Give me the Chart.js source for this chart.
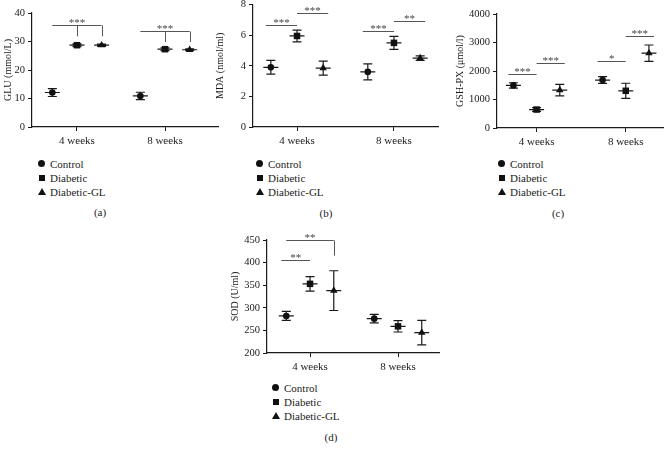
<!DOCTYPE html>
<html>
<head>
<meta charset="utf-8">
<script src="https://cdn.jsdelivr.net/npm/chart.js@4.4.1/dist/chart.umd.min.js"></script>
<style>
  body { margin: 0; background: #fff; width: 668px; height: 454px; position: relative; overflow: hidden; font-family: "Liberation Serif", "DejaVu Serif", serif; color: #222; }
  canvas { position: absolute; }
  .legend { position: absolute; font-family: "Liberation Serif", serif; font-size: 11px; line-height: 14px; }
  .legend div { position: relative; padding-left: 11px; white-space: nowrap; }
  .mk { position: absolute; left: 0; top: 4px; width: 6px; height: 6px; background: #111; }
  .mk.circle { border-radius: 50%; width: 7px; height: 7px; top: 3px; left: -1px; }
  .mk.tri { background: none; width: 0; height: 0; border-left: 4px solid transparent; border-right: 4px solid transparent; border-bottom: 7px solid #111; top: 3px; left: -1px; }
  .cap { position: absolute; font-family: "Liberation Serif", serif; font-size: 11px; transform: translateX(-50%); }
</style>
</head>
<body>
<canvas id="glu-chart" width="226" height="150"></canvas>
<canvas id="mda-chart" width="234" height="150"></canvas>
<canvas id="gsh-chart" width="218" height="150"></canvas>
<canvas id="sod-chart" width="220" height="148"></canvas>

<script>
const weeks = ['4 weeks', '8 weeks'];
const groups = ['Control', 'Diabetic', 'Diabetic-GL'];
const markers = ['circle', 'rect', 'triangle'];

// values per group: [4 weeks, 8 weeks]
const gluMean = [[12.1, 10.9], [28.7, 27.3], [28.7, 27.1]];
const gluErr = [[1.4, 1.3], [0.5, 0.5], [0.4, 0.3]];
const mdaMean = [[3.9, 3.6], [5.95, 5.5], [3.85, 4.5]];
const mdaErr = [[0.45, 0.52], [0.38, 0.42], [0.46, 0.15]];
const gshMean = [[1494, 1682], [647, 1306], [1329, 2624]];
const gshErr = [[94, 118], [65, 265], [205, 288]];
const sodMean = [[282, 276], [353, 259], [338, 245]];
const sodErr = [[10, 9.3], [16, 12.5], [44, 27]];

// significance brackets: week index, from group, to group, height, stars, drops
const gluSig = [
  { week: 0, from: 0, to: 2, y: 35.7, label: '***', drops: [[1, 31.8], [2, 31.8]] },
  { week: 1, from: 0, to: 2, y: 33.6, label: '***', drops: [[1, 29.8], [2, 29.8]] }
];
const mdaSig = [
  { week: 0, from: 0, to: 1, y: 6.67, label: '***' },
  { week: 0, from: 1, to: 2, y: 7.46, label: '***' },
  { week: 1, from: 0, to: 1, y: 6.3, label: '***' },
  { week: 1, from: 1, to: 2, y: 6.9, label: '**' }
];
const gshSig = [
  { week: 0, from: 0, to: 1, y: 1882, label: '***' },
  { week: 0, from: 1, to: 2, y: 2294, label: '***' },
  { week: 1, from: 0, to: 1, y: 2365, label: '*' },
  { week: 1, from: 1, to: 2, y: 3235, label: '***' }
];
const sodSig = [
  { week: 0, from: 0, to: 1, y: 406.6, label: '**' },
  { week: 0, from: 0, to: 2, y: 450, label: '**', drops: [[2, 415.4]] }
];

const ink = '#1a1a1a';

const errorBars = {
  id: 'errorBars',
  beforeDatasetsDraw(chart) {
    const { ctx, scales: { x, y } } = chart;
    const p = chart.options.plugins.errorBars;
    ctx.save();
    ctx.strokeStyle = ink;
    ctx.lineWidth = 1.2;
    p.means.forEach((row, g) => {
      row.forEach((m, i) => {
        const px = x.getPixelForValue(i + 1 + (g - 1) * p.spread);
        const py = y.getPixelForValue(m);
        const top = y.getPixelForValue(m + p.errs[g][i]);
        const bot = y.getPixelForValue(m - p.errs[g][i]);
        ctx.beginPath();
        ctx.moveTo(px - 7.5, py); ctx.lineTo(px + 7.5, py);
        ctx.moveTo(px, top); ctx.lineTo(px, bot);
        ctx.moveTo(px - 4.5, top); ctx.lineTo(px + 4.5, top);
        ctx.moveTo(px - 4.5, bot); ctx.lineTo(px + 4.5, bot);
        ctx.stroke();
      });
    });
    ctx.restore();
  },
  afterDatasetsDraw(chart) {
    const { ctx, scales: { x, y } } = chart;
    const p = chart.options.plugins.errorBars;
    ctx.save();
    ctx.strokeStyle = '#555';
    ctx.fillStyle = '#444';
    ctx.lineWidth = 1;
    ctx.font = '11px "Liberation Serif"';
    ctx.textAlign = 'center';
    ctx.textBaseline = 'bottom';
    p.sig.forEach(s => {
      const pos = g => x.getPixelForValue(s.week + 1 + (g - 1) * p.spread);
      let x1 = pos(s.from), x2 = pos(s.to);
      if (!s.drops) {
        if (s.from !== 1) x1 -= 5;
        if (s.to !== 1) x2 += 5;
      }
      const py = Math.round(y.getPixelForValue(s.y)) + 0.5;
      ctx.beginPath();
      ctx.moveTo(x1, py); ctx.lineTo(x2, py);
      (s.drops || []).forEach(d => {
        const dx = Math.round(pos(d[0])) + 0.5;
        ctx.moveTo(dx, py); ctx.lineTo(dx, y.getPixelForValue(d[1]));
      });
      ctx.stroke();
      ctx.fillText(s.label, (x1 + x2) / 2, py + 3);
    });
    ctx.restore();
  }
};

function makePanel(id, p) {
  const canvas = document.getElementById(id);
  canvas.style.left = p.box[0] + 'px';
  canvas.style.top = p.box[1] + 'px';
  const boxRight = p.box[0] + canvas.width;
  const boxBottom = p.box[1] + canvas.height;

  const datasets = groups.map((name, g) => ({
    label: name,
    data: weeks.map((w, i) => ({ x: i + 1 + (g - 1) * p.spread, y: p.means[g][i] })),
    pointStyle: markers[g],
    pointRadius: [3.3, 4.6, 4.3][g],
    backgroundColor: '#111',
    borderColor: '#111',
    borderWidth: 0,
    clip: false
  }));

  new Chart(canvas.getContext('2d'), {
    type: 'scatter',
    data: { datasets: datasets },
    plugins: [errorBars],
    options: {
      responsive: false,
      animation: false,
      devicePixelRatio: 1,
      layout: { padding: { left: 0, top: p.area[1] - p.box[1], right: boxRight - p.area[2], bottom: 0 } },
      plugins: {
        legend: { display: false },
        tooltip: { enabled: false },
        errorBars: { means: p.means, errs: p.errs, sig: p.sig, spread: p.spread }
      },
      scales: {
        x: {
          type: 'linear',
          min: p.xRange[0],
          max: p.xRange[1],
          afterBuildTicks: s => { s.ticks = [{ value: 1 }, { value: 2 }]; },
          afterFit: s => {
            s.height = boxBottom - p.area[3];
            s.paddingLeft = s.paddingRight = 0;
          },
          ticks: {
            callback: v => weeks[v - 1],
            font: { family: 'Liberation Serif', size: 11 },
            color: ink,
            padding: 4,
            maxRotation: 0
          },
          grid: { drawOnChartArea: false, drawTicks: true, tickLength: 4, color: ink },
          border: { color: ink, width: 1.2 }
        },
        y: {
          min: p.yRange[0],
          max: p.yRange[1],
          afterFit: s => {
            s.width = p.area[0] - p.box[0];
            s.paddingTop = s.paddingBottom = 0;
          },
          ticks: {
            stepSize: p.yRange[2],
            callback: v => String(v),
            font: { family: 'Liberation Serif', size: 10.5 },
            color: ink,
            padding: 3
          },
          grid: { drawOnChartArea: false, drawTicks: true, tickLength: 4, color: ink },
          border: { color: ink, width: 1.2 },
          title: {
            display: true,
            text: p.title,
            font: { family: 'Liberation Serif', size: 10 },
            color: ink,
            padding: { top: p.titlePad, bottom: 0 }
          }
        }
      }
    }
  });
}

function makeLegend(left, top, caption, capX, capY) {
  const box = document.createElement('div');
  box.className = 'legend';
  box.style.left = left + 'px';
  box.style.top = top + 'px';
  box.innerHTML = groups.map((name, g) =>
    '<div><span class="mk ' + ['circle', 'sq', 'tri'][g] + '"></span>' + name + '</div>').join('');
  document.body.appendChild(box);

  const cap = document.createElement('div');
  cap.className = 'cap';
  cap.style.left = capX + 'px';
  cap.style.top = capY + 'px';
  cap.textContent = caption;
  document.body.appendChild(cap);
}

makePanel('glu-chart', {
  box: [0, 0], area: [32, 13, 218, 127], xRange: [0.489, 2.602], yRange: [0, 40, 10],
  spread: 0.28, title: 'GLU (mmol/L)', titlePad: 2, means: gluMean, errs: gluErr, sig: gluSig
});
makePanel('mda-chart', {
  box: [210, 0], area: [253, 4, 438, 127], xRange: [0.546, 2.454], yRange: [0, 8, 2],
  spread: 0.27, title: 'MDA (nmol/ml)', titlePad: 4, means: mdaMean, errs: mdaErr, sig: mdaSig
});
makePanel('gsh-chart', {
  box: [450, 0], area: [497, 14, 665, 128], xRange: [0.556, 2.422], yRange: [0, 4000, 1000],
  spread: 0.26, title: 'GSH-PX (μmol/l)', titlePad: 4, means: gshMean, errs: gshErr, sig: gshSig
});
makePanel('sod-chart', {
  box: [225, 228], area: [267, 240, 439, 353], xRange: [0.511, 2.466], yRange: [200, 450, 50],
  spread: 0.27, title: 'SOD (U/ml)', titlePad: 4, means: sodMean, errs: sodErr, sig: sodSig
});

makeLegend(39, 157, '(a)', 100, 206);
makeLegend(257, 157, '(b)', 326, 207);
makeLegend(499, 157, '(c)', 558, 207);
makeLegend(273, 381, '(d)', 331, 431);
</script>
</body>
</html>
